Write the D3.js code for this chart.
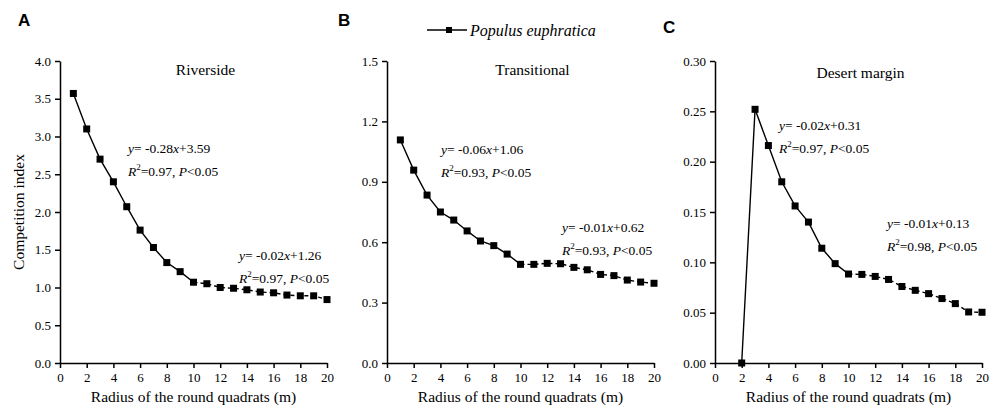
<!DOCTYPE html>
<html>
<head>
<meta charset="utf-8">
<script src="https://cdn.jsdelivr.net/npm/d3@7"></script>
<style>
  body { margin: 0; background: #fff; }
  svg text { fill: #000; }
</style>
</head>
<body>
<script>
// radius of the round quadrats (m)
const radiusA = [1,2,3,4,5,6,7,8,9,10,11,12,13,14,15,16,17,18,19,20];
const radiusB = [1,2,3,4,5,6,7,8,9,10,11,12,13,14,15,16,17,18,19,20];
const radiusC = [2,3,4,5,6,7,8,9,10,11,12,13,14,15,16,17,18,19,20];

// competition index
const riverside = [3.57,3.10,2.70,2.40,2.07,1.76,1.53,1.33,1.21,1.07,1.05,1.00,0.99,0.97,0.94,0.93,0.90,0.89,0.89,0.84];
const transitional = [1.108,0.958,0.834,0.75,0.71,0.656,0.606,0.583,0.541,0.49,0.49,0.495,0.493,0.475,0.463,0.44,0.434,0.412,0.402,0.396];
const desertMargin = [0,0.252,0.216,0.18,0.156,0.140,0.114,0.0987,0.0884,0.088,0.086,0.083,0.076,0.0722,0.0689,0.064,0.059,0.0507,0.0504];

const xTicks = [0,2,4,6,8,10,12,14,16,18,20];
const yTicksA = [0,0.5,1,1.5,2,2.5,3,3.5,4];
const yTicksB = [0,0.3,0.6,0.9,1.2,1.5];
const yTicksC = [0,0.05,0.10,0.15,0.20,0.25,0.30];

// no serif font available in the sandbox, so a sans stack at slightly smaller sizes
const font = '"Liberation Serif", "Times New Roman", "Liberation Sans", Arial, sans-serif';

const panels = [
  {label:'A', title:'Riverside', x: radiusA, y: riverside, yMax: 4, yTicks: yTicksA, fmt: d3.format('.1f'),
   left: 60, letterX: 18, labelY: 26, titleY: 75, breakAt: 10,
   eq: [{x:128, y:153, a:'-0.28', b:'3.59', r:'0.97'}, {x:239, y:260, a:'-0.02', b:'1.26', r:'0.97'}]},
  {label:'B', title:'Transitional', x: radiusB, y: transitional, yMax: 1.5, yTicks: yTicksB, fmt: d3.format('.1f'),
   left: 387, letterX: 338, labelY: 26, titleY: 75, breakAt: 10,
   eq: [{x:441, y:154, a:'-0.06', b:'1.06', r:'0.93'}, {x:562, y:232, a:'-0.01', b:'0.62', r:'0.93'}]},
  {label:'C', title:'Desert margin', x: radiusC, y: desertMargin, yMax: 0.30, yTicks: yTicksC, fmt: d3.format('.2f'),
   left: 715, letterX: 663, labelY: 33, titleY: 78, breakAt: 10,
   eq: [{x:779, y:130, a:'-0.02', b:'0.31', r:'0.97'}, {x:887, y:228, a:'-0.01', b:'0.13', r:'0.98'}]}
];

const W = 989, H = 416;
const plotTop = 61, plotBottom = 363, plotW = 267;

const svg = d3.select('body').append('svg')
  .attr('width', W)
  .attr('height', H)
  .attr('font-family', font);

panels.forEach(p => {
  const x = d3.scaleLinear().domain([0, 20]).range([p.left, p.left + plotW]);
  const y = d3.scaleLinear().domain([0, p.yMax]).range([plotBottom, plotTop]);
  const g = svg.append('g');

  // axes
  const xAxis = g.append('g')
    .attr('transform', 'translate(0,' + plotBottom + ')')
    .call(d3.axisBottom(x).tickValues(xTicks).tickSize(5).tickSizeOuter(0).tickPadding(4));
  const yAxis = g.append('g')
    .attr('transform', 'translate(' + p.left + ',0)')
    .call(d3.axisLeft(y).tickValues(p.yTicks).tickFormat(p.fmt).tickSize(5).tickSizeOuter(0).tickPadding(4));
  [xAxis, yAxis].forEach(a => {
    a.attr('font-family', font).attr('font-size', 13);
    a.selectAll('path, line').attr('stroke', '#000').attr('stroke-width', 1.5);
    a.selectAll('text').attr('fill', '#222');
  });
  xAxis.selectAll('text').attr('dy', '0.8em');

  // solid part then dashed part
  const pts = p.x.map((v, i) => [v, p.y[i]]);
  const line = d3.line().x(d => x(d[0])).y(d => y(d[1]));
  g.append('path')
    .datum(pts.filter(d => d[0] <= p.breakAt))
    .attr('d', line)
    .attr('fill', 'none')
    .attr('stroke', '#000')
    .attr('stroke-width', 1.4);
  g.append('path')
    .datum(pts.filter(d => d[0] >= p.breakAt))
    .attr('d', line)
    .attr('fill', 'none')
    .attr('stroke', '#000')
    .attr('stroke-width', 1.4)
    .attr('stroke-dasharray', '4,3');

  g.selectAll('rect.pt')
    .data(pts)
    .enter().append('rect')
    .attr('class', 'pt')
    .attr('x', d => x(d[0]) - 3.5)
    .attr('y', d => y(d[1]) - 3.5)
    .attr('width', 7)
    .attr('height', 7)
    .attr('fill', '#000');

  // panel letter
  svg.append('text')
    .attr('x', p.letterX)
    .attr('y', p.labelY)
    .attr('font-family', '"Liberation Sans", Arial, sans-serif')
    .attr('font-weight', 'bold')
    .attr('font-size', 17)
    .text(p.label);

  g.append('text')
    .attr('x', x(10) + 12)
    .attr('y', p.titleY)
    .attr('text-anchor', 'middle')
    .attr('font-size', 15.5)
    .text(p.title);

  // regression annotations
  p.eq.forEach(e => {
    const t1 = g.append('text').attr('x', e.x).attr('y', e.y).attr('font-size', 13.5).attr('fill', '#222');
    t1.append('tspan').attr('font-style', 'italic').text('y');
    t1.append('tspan').text('= ' + e.a);
    t1.append('tspan').attr('font-style', 'italic').text('x');
    t1.append('tspan').text('+' + e.b);

    const t2 = g.append('text').attr('x', e.x).attr('y', e.y + 23).attr('font-size', 13.5).attr('fill', '#222');
    t2.append('tspan').attr('font-style', 'italic').text('R');
    t2.append('tspan').attr('dy', -6).attr('font-size', 9).text('2');
    t2.append('tspan').attr('dy', 6).text('=' + e.r + ', ');
    t2.append('tspan').attr('font-style', 'italic').text('P');
    t2.append('tspan').text('<0.05');
  });

  // x axis title
  g.append('text')
    .attr('x', (x(0) + x(20)) / 2)
    .attr('y', 402)
    .attr('text-anchor', 'middle')
    .attr('font-size', 15.5)
    .text('Radius of the round quadrats (m)');
});

// y axis title
svg.append('text')
  .attr('transform', 'translate(24,' + ((plotTop + plotBottom) / 2) + ') rotate(-90)')
  .attr('text-anchor', 'middle')
  .attr('font-size', 15.5)
  .text('Competition index');

// legend
const lg = svg.append('g');
lg.append('line')
  .attr('x1', 427).attr('x2', 467)
  .attr('y1', 30).attr('y2', 30)
  .attr('stroke', '#000').attr('stroke-width', 1.6);
lg.append('rect')
  .attr('x', 446).attr('y', 27)
  .attr('width', 6).attr('height', 6)
  .attr('fill', '#000');
lg.append('text')
  .attr('x', 470).attr('y', 36)
  .attr('font-size', 16)
  .attr('font-style', 'italic')
  .text('Populus euphratica');
</script>
</body>
</html>
